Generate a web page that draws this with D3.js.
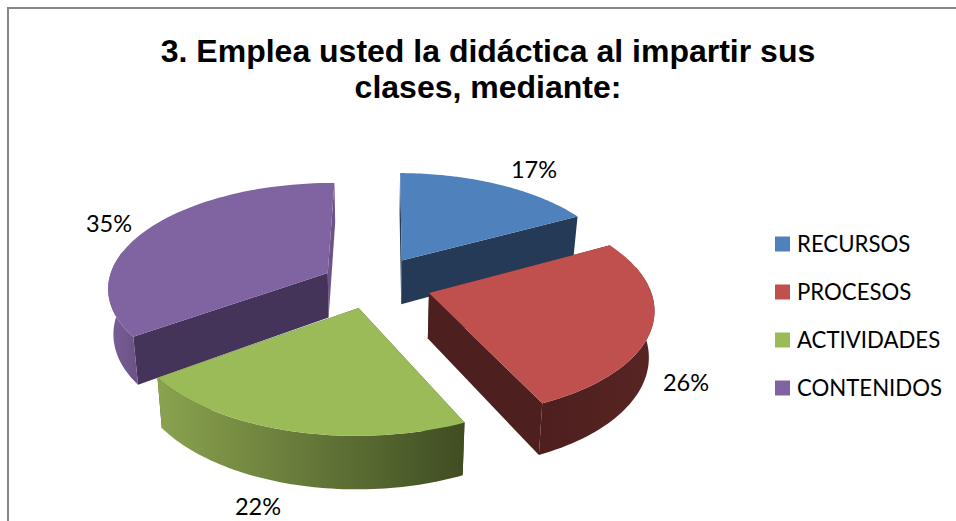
<!DOCTYPE html>
<html>
<head>
<meta charset="utf-8">
<script src="https://cdn.jsdelivr.net/npm/d3@7/dist/d3.min.js"></script>
<style>
html,body{margin:0;padding:0;background:#fff;overflow:hidden}
svg{display:block}
.t{font-family:"Liberation Sans",Arial,sans-serif;font-weight:bold;font-size:32px;fill:#000}
.l{font-family:Lato,sans-serif;font-size:22.2px;fill:#000}
.p{font-family:Lato,sans-serif;font-size:23.5px;fill:#000}
</style>
</head>
<body>
<svg id="c" width="956" height="521"></svg>
<script>
const categories = ["RECURSOS", "PROCESOS", "ACTIVIDADES", "CONTENIDOS"];
const values = [17, 26, 22, 35];
const labels = ["17%", "26%", "22%", "35%"];
const titleLines = ["3. Emplea usted la didáctica al impartir sus", "clases, mediante:"];
const topColors = ["#4f81bd", "#c0504d", "#9bbb59", "#8064a2"];
const wallColors = ["#243a56", "#4d1f1e", "#3f4d22", "#44345a"];
const sideColors = ["#243a56", "#4d1f1e", "#3f4d22", "#6b5488"];
const rimLight = ["#3c628f", "#582523", "#8aa34f", "#7a5f9a"];
const rimDark = ["#2c4768", "#4d1f1e", "#3f4d22", "#6c5488"];

const svg = d3.select("#c");
const H = 521, W = 956;

// frame (open at the right and bottom, where the picture is cropped)
svg.append("path").attr("d", `M8,${H+2} V8 H${W+2}`)
  .attr("fill", "none").attr("stroke", "#868686").attr("stroke-width", 2);

// title
svg.selectAll("text.t").data(titleLines).join("text").attr("class", "t")
  .attr("x", 488).attr("y", (d, i) => 62 + i * 36).attr("text-anchor", "middle").text(d => d);

// perspective projection of the pie's ground plane
const cx = 372, cy = 284;
const a = 220, b = 104.5, k = 0.13, depth = 45, shrink = 0.98;
const explode = [0.27, 0.27, 0.23, 0.23];
const rotation = 0.5 * Math.PI / 180;
const proj = (gx, gz, low) => {
  const s = 1 / (1 - k * gz);
  const X = a * gx * s * (low ? shrink : 1);
  return [cx + X, cy + b * gz * s + (low ? depth * s : 0)];
};
const pie = d3.pie().sort(null).value(d => d).startAngle(rotation).endAngle(rotation + 2 * Math.PI);
const arcs = pie(values);
const line = d3.line();

const slices = arcs.map((d, i) => {
  const mid = (d.startAngle + d.endAngle) / 2;
  const ox = explode[i] * Math.sin(mid), oz = -explode[i] * Math.cos(mid);
  const rim = d3.range(0, 61).map(j => d.startAngle + (d.endAngle - d.startAngle) * j / 60);
  const front = rim.filter(t => Math.cos(t) < 0.25);
  const pt = (t, low) => proj(ox + Math.sin(t), oz - Math.cos(t), low);
  return {
    i, apex: proj(ox, oz, false), apexLow: proj(ox, oz, true),
    top: rim.map(t => pt(t, false)), bot: rim.map(t => pt(t, true)),
    frontTop: front.map(t => pt(t, false)), frontBot: front.map(t => pt(t, true))
  };
});

const defs = svg.append("defs");
slices.forEach(s => {
  if (!s.frontTop.length) return;
  const xs = s.frontTop.map(p => p[0]);
  const g = defs.append("linearGradient").attr("id", "rim" + s.i)
    .attr("gradientUnits", "userSpaceOnUse")
    .attr("x1", d3.min(xs)).attr("x2", d3.max(xs)).attr("y1", 0).attr("y2", 0);
  const swap = s.i === 1;
  g.append("stop").attr("offset", 0).attr("stop-color", swap ? rimDark[s.i] : rimLight[s.i]);
  g.append("stop").attr("offset", 1).attr("stop-color", swap ? rimLight[s.i] : rimDark[s.i]);
});

// back-to-front painter's order
const order = [3, 0, 1, 2];
order.forEach(i => {
  const s = slices[i];
  const g = svg.append("g");
  const n = s.top.length - 1;
  g.append("path").attr("d", line([s.apex, s.top[n], s.bot[n], s.apexLow]) + "Z").attr("fill", sideColors[i]);
  g.append("path").attr("d", line([s.apex, s.top[0], s.bot[0], s.apexLow]) + "Z").attr("fill", wallColors[i]);
  if (s.frontTop.length) {
    g.append("path").attr("d", line(s.frontTop.concat(s.frontBot.slice().reverse())) + "Z").attr("fill", `url(#rim${i})`);
  }
  g.append("path").attr("d", line([s.apex].concat(s.top)) + "Z").attr("fill", topColors[i]);
});

// data labels
const labelX = d3.scaleOrdinal().domain(labels).range([534, 686, 258, 109]);
const labelY = d3.scaleOrdinal().domain(labels).range([178, 391, 515, 232]);
svg.selectAll("text.p").data(labels).join("text").attr("class", "p")
  .attr("x", d => labelX(d)).attr("y", d => labelY(d)).attr("text-anchor", "middle").text(d => d);

// legend
const legendY = d3.scalePoint().domain(categories).range([244, 388]);
const lg = svg.selectAll("g.lg").data(categories).join("g").attr("class", "lg")
  .attr("transform", d => `translate(775,${legendY(d)})`);
lg.append("rect").attr("y", -7.5).attr("width", 15).attr("height", 15)
  .attr("fill", (d, i) => topColors[i]);
lg.append("text").attr("class", "l").attr("x", 22).attr("y", 8).text(d => d);
</script>
</body>
</html>
